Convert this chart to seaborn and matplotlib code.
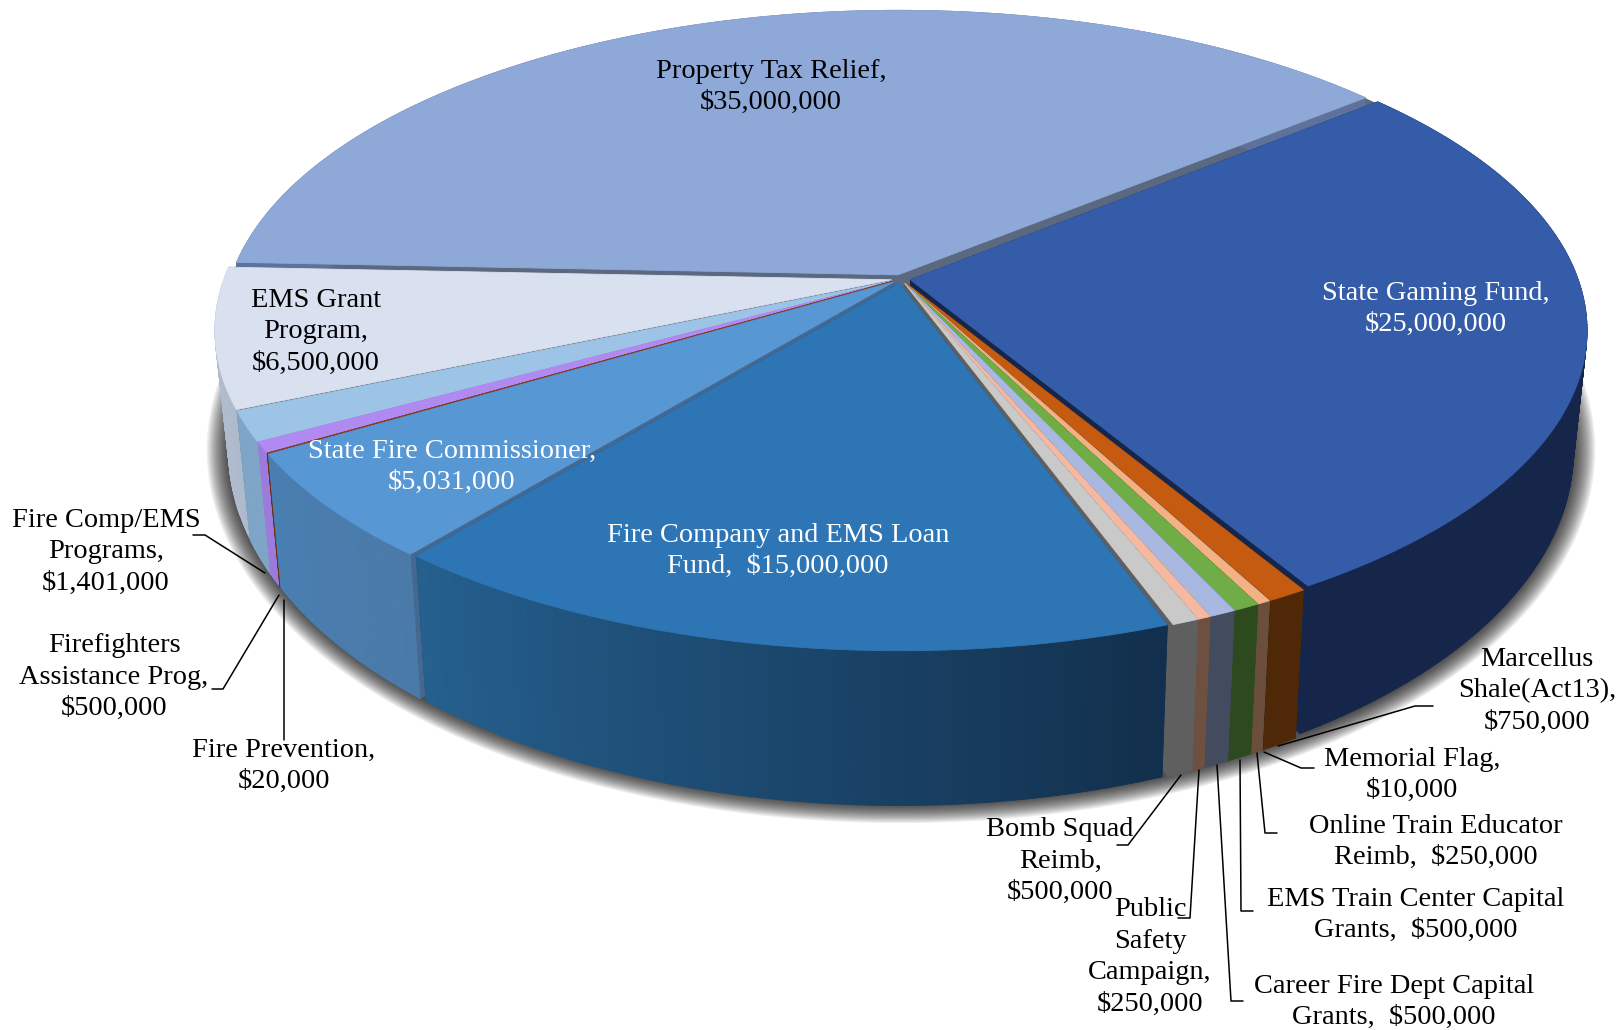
import numpy as np
import matplotlib
matplotlib.use('Agg')
import matplotlib.pyplot as plt
import seaborn as sns

sns.set_theme(style='white')
plt.rcParams['font.family'] = ['Liberation Serif', 'DejaVu Serif']

# budget items, clockwise starting at the Property Tax / Gaming boundary
values = [25000000, 750000, 10000, 250000, 500000, 500000, 250000, 500000,
          15000000, 5031000, 20000, 500000, 1401000, 6500000, 35000000]
labels = ['State Gaming Fund,\n$25,000,000',
          'Marcellus\nShale(Act13),\n$750,000',
          'Memorial Flag,\n$10,000',
          'Online Train Educator\nReimb,  $250,000',
          'EMS Train Center Capital\nGrants,  $500,000',
          'Career Fire Dept Capital\nGrants,  $500,000',
          'Public\nSafety\nCampaign,\n$250,000',
          'Bomb Squad\nReimb,\n$500,000',
          'Fire Company and EMS Loan\nFund,  $15,000,000',
          'State Fire Commissioner,\n$5,031,000',
          'Fire Prevention,\n$20,000',
          'Firefighters\nAssistance Prog,\n$500,000',
          'Fire Comp/EMS\nPrograms,\n$1,401,000',
          'EMS Grant\nProgram,\n$6,500,000',
          'Property Tax Relief,\n$35,000,000']
top_colors = ['#345ca8', '#c55a11', '#8a5a3a', '#f4b183', '#70ad47', '#a9b8e0', '#f4b9a0', '#c9c9c9',
              '#2e75b6', '#5797d4', '#8b3a1e', '#b08af0', '#9dc3e6', '#d9e0f0', '#8ea8d8']
wall_left = ['#16264a', '#4f2807', '#3a2a1e', '#6b4f3c', '#2d4a1e', '#434b5e', '#6d5040', '#5f5f5f',
             '#25608f', '#4a7fb2', '#6b3018', '#9c7bdc', '#7fa6c8', '#b0bccd', '#5f7299']
wall_right = ['#16264a', '#4f2807', '#3a2a1e', '#6b4f3c', '#2d4a1e', '#434b5e', '#6d5040', '#5f5f5f',
              '#122f4c', '#4a7aa8', '#6b3018', '#9c7bdc', '#7fa6c8', '#b0bccd', '#5f7299']
side_colors = ['#16264a', '#4f2807', '#3a2a1e', '#6b4f3c', '#2d4a1e', '#434b5e', '#6d5040', '#5f5f5f',
               '#1c4468', '#44688f', '#6b3018', '#9c7bdc', '#6f7f90', '#5f6670', '#5a6880']
text_colors = ['white', 'black', 'black', 'black', 'black', 'black', 'black', 'black',
               'white', 'white', 'black', 'black', 'black', 'black', 'black']
label_x = [1436, 1537, 1412, 1436, 1416, 1394, 1150, 1060, 778, 452, 284, 114, 106, 316, 771]
label_y = [309, 691, 775, 842, 915, 1002, 957, 861, 551, 467, 766, 677, 552, 332, 87]

# leader lines
leaders = [([1278, 1415, 1433], [746, 706, 706]),
           ([1264, 1301, 1314], [752, 768, 768]),
           ([1257, 1265, 1277], [753, 833, 833]),
           ([1240, 1241, 1253], [760, 911, 911]),
           ([1217, 1231, 1243], [765, 1001, 1001]),
           ([1199, 1190, 1178], [770, 918, 918]),
           ([1181, 1128, 1117], [775, 845, 845]),
           ([284, 284], [600, 740]),
           ([279, 223, 212], [595, 689, 689]),
           ([265, 205, 193], [573, 535, 535])]

# projection of the disc onto the picture
cx, cy = 901, 279
A, B, k = 677, 312, -0.1607
start = -39.5
explode = 0.014


def top_xy(x, y):
    w = 1 + k * y
    return cx + A * x / w, cy + B * y / w


def bottom_xy(x, y):
    u, v = top_xy(x, y)
    return cx + 0.98 * (u - cx), cy + 115 + 1.107 * (v - cy)


fig = plt.figure(figsize=(16.2, 10.3), dpi=100)
ax = fig.add_axes([0, 0, 1, 1])
ax.set_xlim(0, 1620)
ax.set_ylim(1030, 0)
ax.axis('off')

# soft shadow under the disc
t = np.radians(np.linspace(0, 360, 361))
for grow in np.arange(22, 0, -1.5):
    u, v = bottom_xy(np.cos(t), np.sin(t))
    mx, my = cx, v.min() / 2 + v.max() / 2
    ax.fill(mx + (u - mx) * (1 + grow / 670), my + (v - my) * (1 + grow / 420) - 1,
            color='black', alpha=0.07, lw=0, zorder=1)

# dark core seen through the gaps between the slices
u, v = top_xy(0.99 * np.cos(t), 0.99 * np.sin(t))
ax.fill(u, v, color='#5a6880', lw=0, zorder=2)

shares = np.array(values) / sum(values) * 360
ends = start + np.cumsum(shares)
starts = ends - shares
mids = (starts + ends) / 2
order = np.argsort(np.sin(np.radians(mids)))

z = 3
for i in order:
    a = np.radians(np.linspace(starts[i], ends[i], max(int(shares[i] * 2), 2) + 1))
    m = np.radians(mids[i])
    ox, oy = explode * np.cos(m), explode * np.sin(m)
    r = 1 / (1 + explode)
    px, py = ox + r * np.cos(a), oy + r * np.sin(a)
    tu, tv = top_xy(px, py)
    bu, bv = bottom_xy(px, py)
    au, av = top_xy(ox, oy)
    cu, cv = bottom_xy(ox, oy)

    # radial faces
    for j in [0, -1]:
        ax.fill([au, tu[j], bu[j], cu], [av, tv[j], bv[j], cv], color=side_colors[i], lw=0.5, zorder=z)
    z += 1

    # rim, shaded across the slice
    shades = sns.blend_palette([wall_left[i], wall_right[i]], n_colors=len(a))
    # the angle runs right to left along the front of the disc
    for j in range(len(a) - 1):
        ax.fill([tu[j], tu[j + 1], bu[j + 1], bu[j]], [tv[j], tv[j + 1], bv[j + 1], bv[j]],
                color=shades[len(a) - 2 - j], lw=0.6, zorder=z)
    z += 1

    # top face
    ax.fill(np.r_[au, tu], np.r_[av, tv], color=top_colors[i], lw=0.6, zorder=z)
    z += 1

for xs, ys in leaders:
    sns.lineplot(x=xs, y=ys, sort=False, estimator=None, color='black', lw=1.1, ax=ax, zorder=z)

for i in range(len(values)):
    ax.text(label_x[i], label_y[i], labels[i], color=text_colors[i], fontsize=20.4,
            ha='center', va='center', linespacing=1.35, zorder=z + 1)

fig.savefig('out.png', dpi=100, facecolor='white')
